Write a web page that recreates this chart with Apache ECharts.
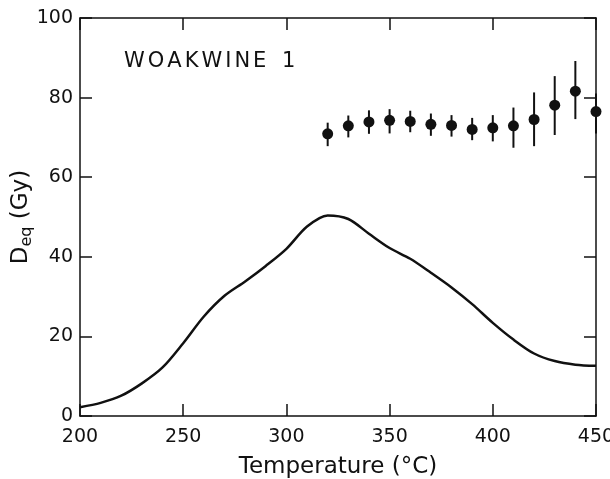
<!DOCTYPE html>
<html>
<head>
<meta charset="utf-8">
<script src="https://cdn.jsdelivr.net/npm/echarts@6/dist/echarts.min.js"></script>
<style>html,body{margin:0;padding:0;background:#fff}#c{width:610px;height:479px}</style>
</head>
<body>
<div id="c"></div>
<script>
// Glow curve (continuous line)
const curveT = [200,210,220,230,240,250,260,270,280,290,300,310,320,330,340,350,360,370,380,390,400,410,420,430,440,450];
const curveD = [2.2,3.3,5.1,8.2,12.2,18.3,25.0,30.2,33.8,37.7,42.0,47.6,50.4,49.5,45.8,42.2,39.5,36.0,32.3,28.1,23.4,19.2,15.7,13.8,12.9,12.6];
// Deq plateau points with error bars
const pointT = [320,330,340,350,360,370,380,390,400,410,420,430,440,450];
const pointD = [70.9,72.9,73.9,74.3,74.0,73.3,73.0,72.0,72.4,72.9,74.5,78.1,81.6,76.5];
const pointHi = [73.7,75.5,76.8,77.1,76.7,76.0,75.6,74.9,75.6,77.5,81.3,85.4,89.2,81.0];
const pointLo = [67.8,70.0,70.9,71.0,71.3,70.4,70.2,69.3,69.0,67.4,67.8,70.6,74.6,71.0];
const xTicks = [200,250,300,350,400,450];
const yTicks = [0,20,40,60,80,100];
const sampleLabel = 'WOAKWINE 1';

const font = 'DejaVu Sans';
const chart = echarts.init(document.getElementById('c'));
const axisLine = {show: true, onZero: false, lineStyle: {color: '#111', width: 1.5}};
const tick = {show: true, inside: true, length: 12, lineStyle: {color: '#111', width: 1.5}};
// spaced lettering built as rich-text tokens
const labelRich = sampleLabel.split('').map(ch => ch === ' ' ? '{sp| }' : '{l|' + ch + '}').join('');
chart.setOption({
  animation: false,
  backgroundColor: '#fff',
  grid: {left: 80, right: 14, top: 18, bottom: 63, containLabel: false, outerBoundsMode: 'none'},
  xAxis: [
    {type: 'value', min: xTicks[0], max: xTicks[xTicks.length-1], interval: 50, position: 'bottom',
     axisLine, axisTick: tick, splitLine: {show: false},
     axisLabel: {color: '#111', fontFamily: font, fontSize: 19, margin: 12},
     name: 'Temperature (°C)', nameLocation: 'middle', nameGap: 40, nameMoveOverlap: false,
     nameTextStyle: {color: '#111', fontFamily: font, fontSize: 23}},
    {type: 'value', min: xTicks[0], max: xTicks[xTicks.length-1], interval: 50, position: 'top',
     axisLine, axisTick: tick, splitLine: {show: false}, axisLabel: {show: false}}
  ],
  yAxis: [
    {type: 'value', min: yTicks[0], max: yTicks[yTicks.length-1], interval: 20, position: 'left',
     axisLine, axisTick: tick, splitLine: {show: false},
     axisLabel: {color: '#111', fontFamily: font, fontSize: 19, margin: 7},
     name: 'D{s|eq} (Gy)', nameLocation: 'middle', nameGap: 45, nameRotate: 90, nameMoveOverlap: false,
     nameTextStyle: {color: '#111', fontFamily: font, fontSize: 23,
       rich: {s: {fontFamily: font, fontSize: 16, color: '#111', verticalAlign: 'bottom', padding: [12,0,0,0]}}}},
    {type: 'value', min: yTicks[0], max: yTicks[yTicks.length-1], interval: 20, position: 'right',
     axisLine, axisTick: tick, splitLine: {show: false}, axisLabel: {show: false}}
  ],
  graphic: [{type: 'text', left: 124, top: 51,
    style: {text: labelRich, fontFamily: font, fontSize: 21, fill: '#111',
      rich: {l: {fontFamily: font, fontSize: 21, fill: '#111', padding: [0, 3, 0, 0]},
             sp: {fontFamily: font, fontSize: 21, padding: [0, 6, 0, 0]}}}}],
  series: [
    {type: 'line', smooth: 0.3, showSymbol: false, data: curveT.map((t,i)=>[t, curveD[i]]),
     lineStyle: {color: '#111', width: 2.5}},
    {type: 'custom', clip: false,
     data: pointT.map((t,i)=>[t, pointLo[i], pointHi[i]]),
     renderItem: function(params, api) {
       const a = api.coord([api.value(0), api.value(1)]);
       const b = api.coord([api.value(0), api.value(2)]);
       return {type: 'line', shape: {x1: a[0], y1: a[1], x2: b[0], y2: b[1]},
               style: {stroke: '#111', lineWidth: 2}};
     }, z: 3},
    {type: 'scatter', clip: false, symbol: 'circle', symbolSize: 11,
     data: pointT.map((t,i)=>[t, pointD[i]]),
     itemStyle: {color: '#111', opacity: 1}, z: 4}
  ]
});
</script>
</body>
</html>
